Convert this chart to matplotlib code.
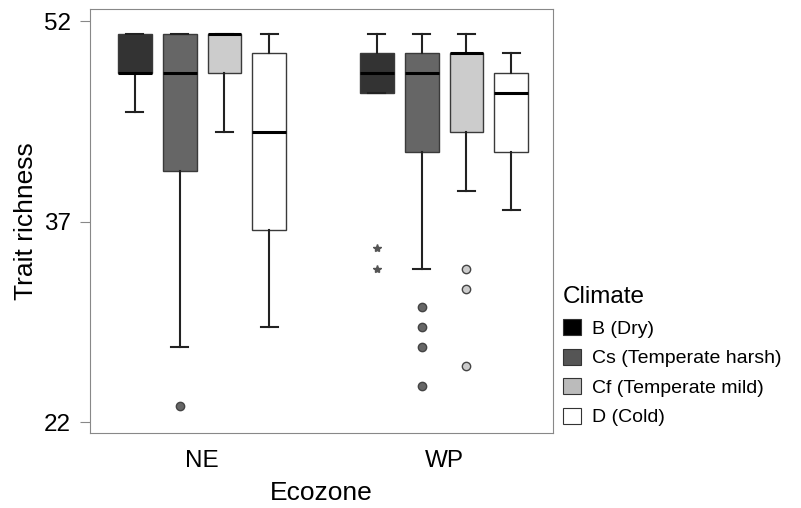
import matplotlib
matplotlib.use("Agg")
import matplotlib.pyplot as plt
from matplotlib.patches import Patch

plt.rcParams["font.family"] = ["Liberation Sans", "DejaVu Sans"]

ecozones = ["NE", "WP"]
climates = ["B (Dry)", "Cs (Temperate harsh)", "Cf (Temperate mild)", "D (Cold)"]
box_colors = ["#333333", "#666666", "#cccccc", "#ffffff"]
legend_colors = ["#000000", "#555555", "#bbbbbb", "#ffffff"]

# per ecozone, per climate: (whislo, q1, med, q3, whishi)
ne_stats = [
    (45.2, 48.1, 48.1, 51.0, 51.0),
    (27.6, 40.8, 48.1, 51.0, 51.0),
    (43.7, 48.1, 51.0, 51.0, 51.0),
    (29.1, 36.4, 43.7, 49.6, 51.0),
]
wp_stats = [
    (46.6, 46.6, 48.1, 49.6, 51.0),
    (33.5, 42.2, 48.1, 49.6, 51.0),
    (39.3, 43.7, 49.6, 49.6, 51.0),
    (37.9, 42.2, 46.6, 48.1, 49.6),
]
ne_outliers = [[], [23.2], [], []]
wp_outliers = [[35.0, 33.5], [30.6, 29.1, 27.6, 24.7], [33.5, 32.0, 26.2], []]

fig = plt.figure(figsize=(8.01, 5.08), dpi=100)
ax = fig.add_axes([0.1124, 0.1476, 0.5780, 0.8346])

offsets = [-1.5, -0.5, 0.5, 1.5]
step = 0.185
for g, (stats, outs) in enumerate([(ne_stats, ne_outliers), (wp_stats, wp_outliers)]):
    for i, (s, fl) in enumerate(zip(stats, outs)):
        d = dict(whislo=s[0], q1=s[1], med=s[2], q3=s[3], whishi=s[4], fliers=[])
        pos = g + offsets[i] * step
        ax.bxp([d], positions=[pos], widths=0.14, capwidths=0.07, patch_artist=True,
               showfliers=False,
               boxprops=dict(facecolor=box_colors[i], edgecolor="#3a3a3a", linewidth=1.0),
               medianprops=dict(color="black", linewidth=2.2),
               whiskerprops=dict(color="#222222", linewidth=1.5),
               capprops=dict(color="#222222", linewidth=1.5))
        if fl:
            if g == 1 and i == 0:
                ax.plot([pos] * len(fl), fl, linestyle="none", marker="*", markersize=6,
                        color="#555555")
            else:
                ax.plot([pos] * len(fl), fl, linestyle="none", marker="o", markersize=6,
                        markerfacecolor=box_colors[i], markeredgecolor="#444444",
                        markeredgewidth=1.0)

ax.set_xlim(-0.463, 1.45)
ax.set_ylim(21.2, 52.9)
ax.set_xticks([0, 1])
ax.set_xticklabels(ecozones, fontsize=17.5)
ax.tick_params(axis="x", length=0, pad=12)
ax.set_yticks([22, 37, 52])
ax.tick_params(axis="y", labelsize=17.5, length=7, color="#888888", pad=7)
for sp in ax.spines.values():
    sp.set_color("#888888")
ax.set_xlabel("Ecozone", fontsize=19, labelpad=7)
ax.set_ylabel("Trait richness", fontsize=19, labelpad=4)

handles = [Patch(facecolor=c, edgecolor="#333333", linewidth=0.8) for c in legend_colors]
leg = ax.legend(handles, climates, title="Climate", loc="upper left",
                bbox_to_anchor=(1.005, 0.365), frameon=False, fontsize=14,
                title_fontsize=17.5, handlelength=0.9, handleheight=0.9,
                handletextpad=0.6, labelspacing=0.55, borderaxespad=0)
leg._legend_box.align = "left"
leg._legend_box.sep = 8

fig.savefig("out.png", dpi=100)
